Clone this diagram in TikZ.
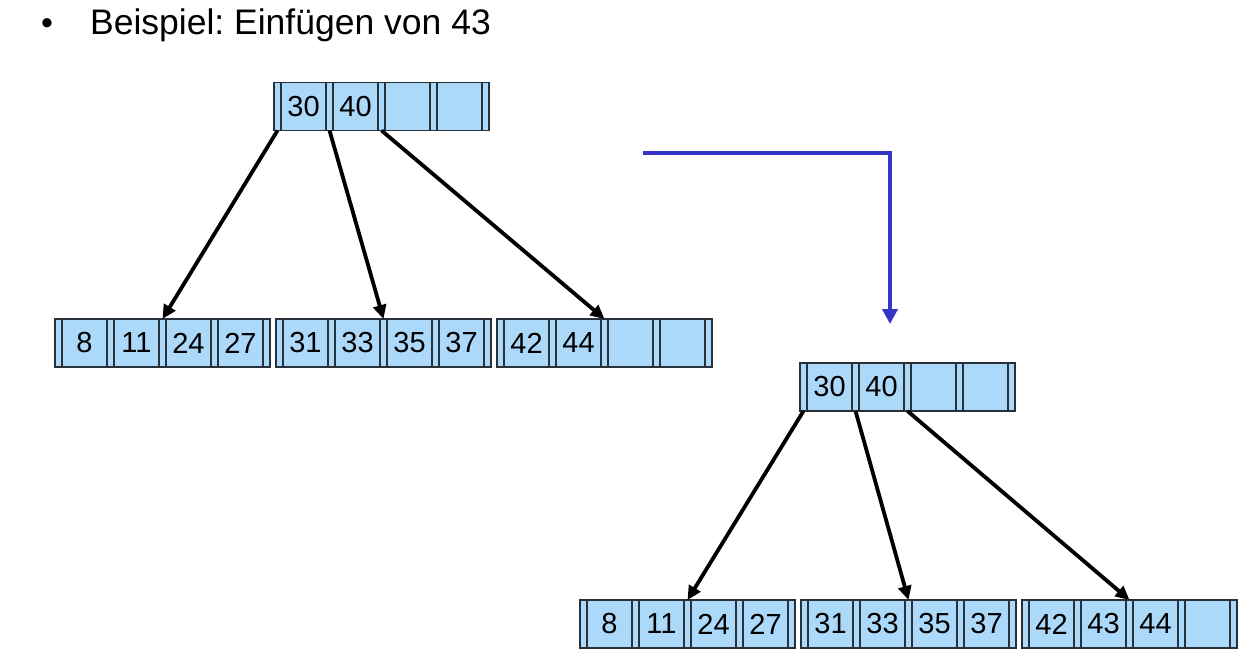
\documentclass[tikz,border=0pt]{standalone}
\usepackage{fontspec}
\setmainfont{Liberation Sans}
\usepackage{tikz}
\usetikzlibrary{positioning}
\usetikzlibrary{arrows.meta}
\frenchspacing
\definecolor{slotfill}{RGB}{172,216,250}
\definecolor{slotline}{RGB}{40,48,58}
\definecolor{moveblue}{RGB}{52,52,200}
\tikzset{
    slot/.style={
        draw=slotline,
        fill=slotfill,
        line width=1.4pt,
        minimum height=48pt,
        inner sep=0pt,
        outer sep=0pt
    },
    ptr/.style={slot, minimum width=7pt},
    keyslot/.style={slot, minimum width=45pt, font=\fontsize{29}{32}\selectfont},
    % Pfeile vom Zeiger zum Kindknoten
    treearrow/.style={
        line width=3.8pt,
        black,
        -{Triangle[length=14pt, width=13pt]}
    },
    movearrow/.style={
        line width=4pt,
        moveblue,
        -{Triangle[length=15pt, width=15pt]}
    }
}
% B-Baum-Knoten: Name, linker Rand, vier Schluessel
\newcommand{\bnode}[6]{%
    \node[ptr, anchor=west] (#1-p0) at (#2) {};
    \node[keyslot, right=0pt of #1-p0] (#1-k1) {#3};
    \node[ptr, right=0pt of #1-k1] (#1-p1) {};
    \node[keyslot, right=0pt of #1-p1] (#1-k2) {#4};
    \node[ptr, right=0pt of #1-k2] (#1-p2) {};
    \node[keyslot, right=0pt of #1-p2] (#1-k3) {#5};
    \node[ptr, right=0pt of #1-k3] (#1-p3) {};
    \node[keyslot, right=0pt of #1-p3] (#1-k4) {#6};
    \node[ptr, right=0pt of #1-k4] (#1-p4) {};
}
\begin{document}
\begin{tikzpicture}[x=1pt, y=-1pt]
    \useasboundingbox (0,0) rectangle (1260,664);
    \node[anchor=base, font=\fontsize{34}{40}\selectfont] (bullet) at (47,34) {•};
    \node[anchor=base west, inner sep=0pt, font=\fontsize{35.5}{40}\selectfont] (title) at (90,34) {Beispiel: Einfügen von 43};

    % vorher
    \bnode{r}{274,106.5}{30}{40}{}{}
    \bnode{a}{55,343}{8}{11}{24}{27}
    \bnode{b}{276,343}{31}{33}{35}{37}
    \bnode{c}{497,343}{42}{44}{}{}
    \draw[treearrow] (r-p0.south) -- (a-p2.north);
    \draw[treearrow] (r-p1.south) -- (b-p2.north);
    \draw[treearrow] (r-p2.south) -- (c-p2.north);

    % Umformung
    \coordinate (m1) at (643,153);
    \coordinate (m2) at (890,153);
    \coordinate (m3) at (890,324);
    \draw[movearrow] (m1) -- (m2) -- (m3);

    % nachher
    \bnode{s}{800,387}{30}{40}{}{}
    \bnode{d}{580,624}{8}{11}{24}{27}
    \bnode{e}{801,624}{31}{33}{35}{37}
    \bnode{f}{1022,624}{42}{43}{44}{}
    \draw[treearrow] (s-p0.south) -- (d-p2.north);
    \draw[treearrow] (s-p1.south) -- (e-p2.north);
    \draw[treearrow] (s-p2.south) -- (f-p2.north);
\end{tikzpicture}
\end{document}
